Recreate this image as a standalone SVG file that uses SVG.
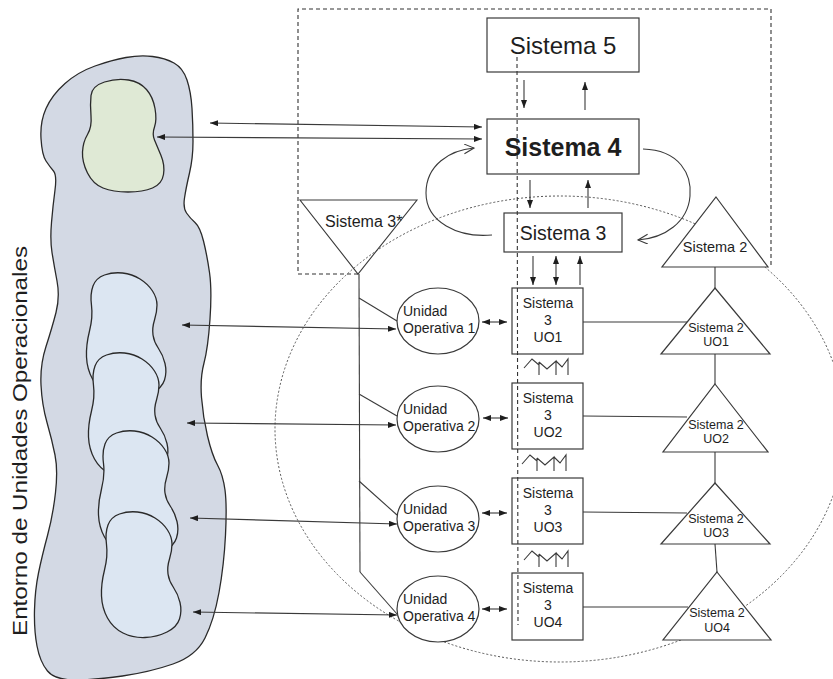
<svg xmlns="http://www.w3.org/2000/svg" xmlns:xlink="http://www.w3.org/1999/xlink" width="833" height="679" viewBox="0 0 833 679">
  <style>
    .box { fill: #ffffff; stroke: #3a3a3a; stroke-width: 1.2; }
    .tri { fill: #ffffff; stroke: #3a3a3a; stroke-width: 1.2; }
    .line { fill: none; stroke: #3a3a3a; stroke-width: 1.1; }
    .dash { fill: none; stroke: #333333; stroke-width: 1.1; stroke-dasharray: 4 3; }
    .dot { fill: none; stroke: #555555; stroke-width: 1; stroke-dasharray: 2 2; }
    .blob { stroke: #2a2a2a; stroke-width: 1.3; }
    .t { font-family: "Liberation Sans", Arial, sans-serif; fill: #1e1e1e; }
    .mid { text-anchor: middle; }
  </style>
  <defs>
    <marker id="ah" markerUnits="userSpaceOnUse" markerWidth="9" markerHeight="7" refX="8" refY="3" orient="auto-start-reverse">
      <path d="M0,0 L8,3 L0,6 Z" fill="#1e1e1e"/>
    </marker>
    <marker id="oh" markerUnits="userSpaceOnUse" markerWidth="12" markerHeight="12" refX="10" refY="5" orient="auto">
      <path d="M0,0 L10,5 L0,10" fill="none" stroke="#3a3a3a" stroke-width="1.1"/>
    </marker>
    <!-- operational unit outline (top at 0,0) -->
    <path id="ou" d="M-8.5,3 Q0,0 9.5,1 Q19,2 27,7 Q35,12 39.5,19 Q44,26 44,33 Q44,40 41.5,48 Q39,56 40,63 Q41,70 45.5,76.5 Q50,83 52,91.5 Q54,100 51.5,108 Q49,116 39,121 Q29,126 17,126.5 Q5,127 -5,122 Q-15,117 -20.5,107 Q-26,97 -26.5,85 Q-27,73 -23.5,59 Q-20,45 -21.5,33.5 Q-23,22 -20,14 Q-17,6 -8.5,3 Z"/>
    <!-- oscillation damping symbol -->
    <path id="zz" d="M0,10 L8,1 L15,7 M15,4 L15,17 M15,4 L23,11 L32,3 L32,17 M32,3 L38,9 L44,1 L44,17"/>
  </defs>

  <rect width="833" height="679" fill="#ffffff"/>

  <!-- environment -->
  <g id="entorno">
    <path class="blob" fill="#d3d9e4" d="M95,66 Q112,60 126,57.5 Q140,55 152.5,56.5 Q165,58 174,63 Q183,68 187,80 Q191,92 192,108.5 Q193,125 193,141.5 Q193,158 189.5,173 Q186,188 184.5,198 Q183,208 186.5,213 Q190,218 195,222.5 Q200,227 203.5,241 Q207,255 209.5,272.5 Q212,290 210,319 Q208,348 204,363 Q200,378 201.5,397.5 Q203,417 207.5,436 Q212,455 217.5,465 Q223,475 225,490 Q227,505 225.5,535 Q224,565 219,592.5 Q214,620 205,638 Q196,656 173,664 Q150,672 122.5,676 Q95,680 75,680 Q55,680 47.5,671 Q40,662 37,646 Q34,630 34.5,610 Q35,590 38.5,573 Q42,556 47.5,535.5 Q53,515 55.5,492.5 Q58,470 55,455 Q52,440 47,422.5 Q42,405 41,385 Q40,365 46,346.5 Q52,328 56,312.5 Q60,297 57,281 Q54,265 52,252.5 Q50,240 51.5,222.5 Q53,205 55,190 Q57,175 53.5,171 Q50,167 46,161 Q42,155 41,138.5 Q40,122 46,108.5 Q52,95 65,83.5 Q78,72 95,66 Z"/>
    <path class="blob" fill="#dfe9d5" d="M104.5,82 Q117,78 128.5,80 Q140,82 146.5,89.5 Q153,97 155,108.5 Q157,120 154.5,127 Q152,134 154.5,140 Q157,146 161,155.5 Q165,165 163.5,174.5 Q162,184 152.5,188 Q143,192 128,192 Q113,192 103,188 Q93,184 87.5,173 Q82,162 82.5,152 Q83,142 87.5,134.5 Q92,127 91,116 Q90,105 91,95.5 Q92,86 104.5,82 Z"/>
    <use href="#ou" x="113" y="272" class="blob" fill="#dce6f2"/>
    <use href="#ou" x="115" y="352" class="blob" fill="#dce6f2"/>
    <use href="#ou" x="125" y="430" class="blob" fill="#dce6f2"/>
    <use href="#ou" x="128" y="511" class="blob" fill="#dce6f2"/>
    <text class="t mid" transform="translate(27,441) rotate(-90)" font-family="'Open Sans', sans-serif" font-size="20" textLength="390" lengthAdjust="spacingAndGlyphs" fill="#222">Entorno de Unidades Operacionales</text>
  </g>

  <!-- system boundaries -->
  <g id="limites">
    <path class="dash" d="M358,274 L298,274 L298,9 L771,9 L771,267"/>
    <ellipse class="dot" cx="560" cy="429" rx="285" ry="233"/>
  </g>

  <g id="sistema5">
    <rect class="box" x="487" y="18" width="152" height="54"/>
    <text class="t mid" x="563" y="54" font-size="24">Sistema 5</text>
  </g>
  <g id="sistema4">
    <rect class="box" x="487" y="119" width="152" height="55"/>
    <text class="t mid" x="563" y="156" font-size="25" font-weight="bold">Sistema 4</text>
  </g>
  <g id="sistema3">
    <rect class="box" x="504" y="213" width="118" height="39"/>
    <text class="t mid" x="563" y="240" font-size="19.5">Sistema 3</text>
  </g>
  <g id="sistema3x">
    <path class="line" d="M300,200 L417,200 L358,274 Z"/>
    <text class="t" x="325" y="227" font-size="16">Sistema 3*</text>
  </g>
  <g id="sistema2">
    <path class="tri" d="M716,197 L768,267 L662,267 Z"/>
    <text class="t mid" x="715" y="252" font-size="14.5">Sistema 2</text>
  </g>

  <!-- operational units -->
  <g id="uo1">
    <ellipse class="box" cx="438" cy="321" rx="41" ry="33"/>
    <text class="t" x="403" y="316" font-size="14">Unidad</text>
    <text class="t" x="403" y="333" font-size="14">Operativa 1</text>
  </g>
  <g id="uo2">
    <ellipse class="box" cx="438" cy="419" rx="41" ry="33"/>
    <text class="t" x="403" y="414" font-size="14">Unidad</text>
    <text class="t" x="403" y="431" font-size="14">Operativa 2</text>
  </g>
  <g id="uo3">
    <ellipse class="box" cx="438" cy="519" rx="41" ry="33"/>
    <text class="t" x="403" y="514" font-size="14">Unidad</text>
    <text class="t" x="403" y="531" font-size="14">Operativa 3</text>
  </g>
  <g id="uo4">
    <ellipse class="box" cx="438" cy="609" rx="41" ry="33"/>
    <text class="t" x="403" y="604" font-size="14">Unidad</text>
    <text class="t" x="403" y="621" font-size="14">Operativa 4</text>
  </g>

  <g id="s3uo1">
    <rect class="box" x="512" y="288" width="71" height="66"/>
    <text class="t mid" x="548" y="308" font-size="14">Sistema</text>
    <text class="t mid" x="548" y="325" font-size="14">3</text>
    <text class="t mid" x="548" y="342" font-size="14">UO1</text>
  </g>
  <g id="s3uo2">
    <rect class="box" x="512" y="383" width="71" height="66"/>
    <text class="t mid" x="548" y="403" font-size="14">Sistema</text>
    <text class="t mid" x="548" y="420" font-size="14">3</text>
    <text class="t mid" x="548" y="437" font-size="14">UO2</text>
  </g>
  <g id="s3uo3">
    <rect class="box" x="512" y="478" width="71" height="66"/>
    <text class="t mid" x="548" y="498" font-size="14">Sistema</text>
    <text class="t mid" x="548" y="515" font-size="14">3</text>
    <text class="t mid" x="548" y="532" font-size="14">UO3</text>
  </g>
  <g id="s3uo4">
    <rect class="box" x="512" y="573" width="71" height="67"/>
    <text class="t mid" x="548" y="593" font-size="14">Sistema</text>
    <text class="t mid" x="548" y="610" font-size="14">3</text>
    <text class="t mid" x="548" y="627" font-size="14">UO4</text>
  </g>

  <g id="s2uo1">
    <path class="tri" d="M715,288 L770,354 L661,354 Z"/>
    <text class="t mid" x="716" y="332" font-size="12.5">Sistema 2</text>
    <text class="t mid" x="716" y="346" font-size="12.5">UO1</text>
  </g>
  <g id="s2uo2">
    <path class="tri" d="M715,384 L768,452 L663,452 Z"/>
    <text class="t mid" x="716" y="429" font-size="12.5">Sistema 2</text>
    <text class="t mid" x="716" y="443" font-size="12.5">UO2</text>
  </g>
  <g id="s2uo3">
    <path class="tri" d="M715,483 L770,544 L661,544 Z"/>
    <text class="t mid" x="716" y="523" font-size="12.5">Sistema 2</text>
    <text class="t mid" x="716" y="537" font-size="12.5">UO3</text>
  </g>
  <g id="s2uo4">
    <path class="tri" d="M717,572 L771,640 L663,640 Z"/>
    <text class="t mid" x="717" y="617" font-size="12.5">Sistema 2</text>
    <text class="t mid" x="717" y="632" font-size="12.5">UO4</text>
  </g>

  <!-- damping symbols between operational controls -->
  <g id="oscilacion" class="line">
    <use href="#zz" x="524" y="358"/>
    <use href="#zz" x="522" y="454"/>
    <use href="#zz" x="524" y="550"/>
  </g>

  <g id="conectores" class="line">
    <!-- environment to Sistema 4 -->
    <line x1="210" y1="123" x2="482" y2="127" marker-start="url(#ah)" marker-end="url(#ah)"/>
    <line x1="157" y1="137" x2="482" y2="139" marker-start="url(#ah)" marker-end="url(#ah)"/>
    <!-- Sistema 5 / 4 -->
    <line x1="524" y1="80" x2="524" y2="108" marker-end="url(#ah)"/>
    <line x1="585" y1="110" x2="585" y2="82" marker-end="url(#ah)"/>
    <!-- Sistema 4 / 3 -->
    <line x1="530" y1="180" x2="530" y2="208" marker-end="url(#ah)"/>
    <line x1="588" y1="208" x2="588" y2="180" marker-end="url(#ah)"/>
    <path d="M492,235 C458,238 426,222 426,193 C426,165 450,150 474,148" marker-end="url(#oh)"/>
    <path d="M643,149 C680,150 692,175 690,196 C688,222 665,238 638,240" marker-end="url(#oh)"/>
    <!-- Sistema 3 / operational control -->
    <line x1="533" y1="256" x2="533" y2="285" marker-end="url(#ah)"/>
    <line x1="556" y1="256" x2="556" y2="285" marker-start="url(#ah)" marker-end="url(#ah)"/>
    <line x1="580" y1="285" x2="580" y2="256" marker-end="url(#ah)"/>
    <!-- Sistema 3* audit channel -->
    <line x1="359" y1="274" x2="360" y2="572"/>
    <line x1="359" y1="298" x2="397" y2="321"/>
    <line x1="359" y1="394" x2="397" y2="416"/>
    <line x1="359" y1="481" x2="397" y2="515"/>
    <line x1="360" y1="572" x2="397" y2="614"/>
    <!-- environment to operational units -->
    <line x1="182" y1="325" x2="396" y2="329" marker-start="url(#ah)" marker-end="url(#ah)"/>
    <line x1="187" y1="423" x2="396" y2="425" marker-start="url(#ah)" marker-end="url(#ah)"/>
    <line x1="190" y1="518" x2="397" y2="524" marker-start="url(#ah)" marker-end="url(#ah)"/>
    <line x1="193" y1="612" x2="397" y2="615" marker-start="url(#ah)" marker-end="url(#ah)"/>
    <!-- units to their controls -->
    <line x1="482" y1="322" x2="507" y2="322" marker-start="url(#ah)" marker-end="url(#ah)"/>
    <line x1="483" y1="418" x2="508" y2="418" marker-start="url(#ah)" marker-end="url(#ah)"/>
    <line x1="482" y1="513" x2="507" y2="513" marker-start="url(#ah)" marker-end="url(#ah)"/>
    <line x1="482" y1="609" x2="507" y2="609" marker-start="url(#ah)" marker-end="url(#ah)"/>
    <!-- controls to coordination -->
    <line x1="583" y1="322" x2="687" y2="322"/>
    <line x1="583" y1="416" x2="687" y2="417"/>
    <line x1="583" y1="512" x2="687" y2="513"/>
    <line x1="583" y1="607" x2="688" y2="607"/>
    <line x1="715" y1="267" x2="715" y2="288"/>
    <line x1="715" y1="354" x2="715" y2="384"/>
    <line x1="715" y1="452" x2="715" y2="483"/>
    <line x1="715" y1="544" x2="717" y2="572"/>
  </g>

  <!-- management / operations split -->
  <line class="dash" x1="517" y1="57" x2="518" y2="625"/>
</svg>
